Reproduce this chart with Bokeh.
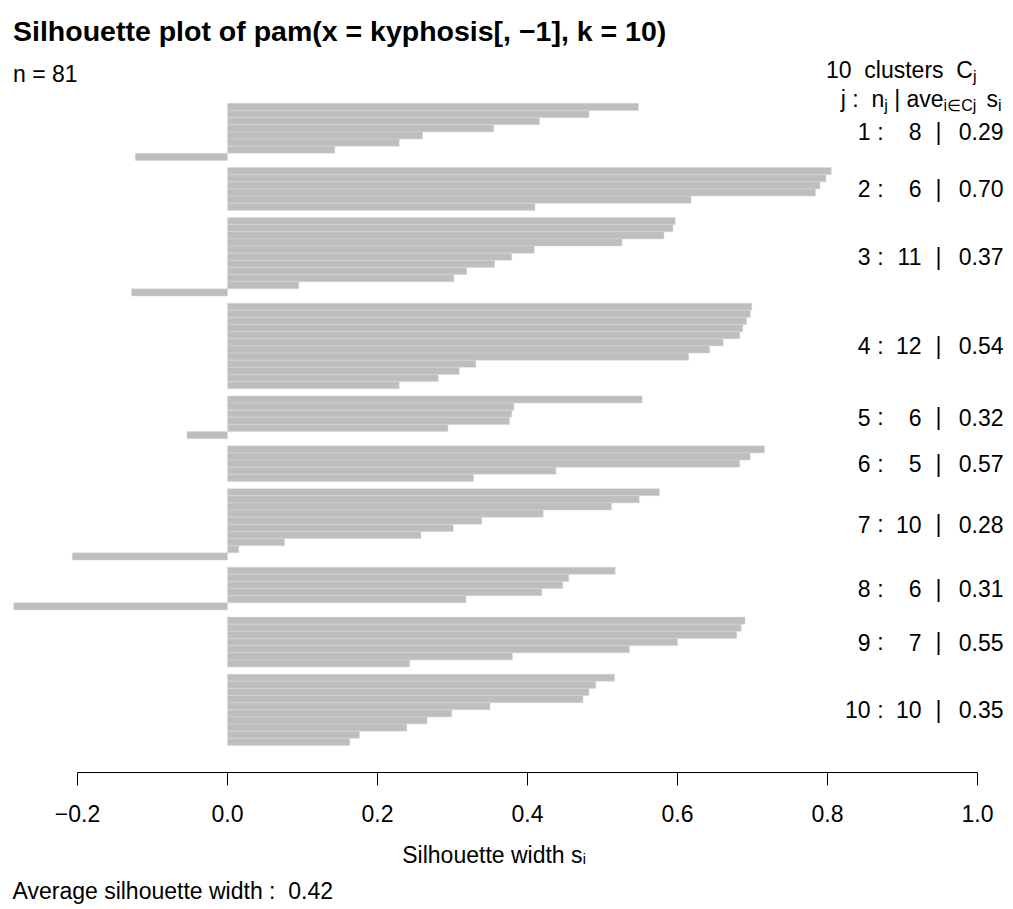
from bokeh.plotting import figure
from bokeh.models import Range1d, LinearAxis, FixedTicker, Label, ColumnDataSource, Title
from bokeh.embed import file_html
from bokeh.resources import INLINE

# ---------------- data ----------------
cluster_ids = [1, 2, 3, 4, 5, 6, 7, 8, 9, 10]
c1 = [0.548, 0.482, 0.416, 0.355, 0.260, 0.229, 0.143, -0.123]
c2 = [0.805, 0.798, 0.790, 0.784, 0.618, 0.410]
c3 = [0.597, 0.594, 0.582, 0.526, 0.409, 0.379, 0.356, 0.319, 0.302, 0.095, -0.128]
c4 = [0.699, 0.697, 0.692, 0.687, 0.683, 0.661, 0.643, 0.615, 0.331, 0.309, 0.281, 0.229]
c5 = [0.553, 0.382, 0.379, 0.376, 0.294, -0.054]
c6 = [0.716, 0.697, 0.683, 0.438, 0.328]
c7 = [0.576, 0.549, 0.512, 0.421, 0.339, 0.301, 0.258, 0.076, 0.015, -0.207]
c8 = [0.517, 0.455, 0.447, 0.419, 0.318, -0.285]
c9 = [0.690, 0.685, 0.679, 0.600, 0.536, 0.380, 0.243]
c10 = [0.516, 0.491, 0.482, 0.474, 0.350, 0.299, 0.266, 0.239, 0.176, 0.163]
cluster_widths = [c1, c2, c3, c4, c5, c6, c7, c8, c9, c10]
cluster_ave = ["0.29", "0.70", "0.37", "0.54", "0.32", "0.57", "0.28", "0.31", "0.55", "0.35"]
n_total = 81
avg_width = "0.42"
tick_values = [-0.2, 0.0, 0.2, 0.4, 0.6, 0.8, 1.0]
tick_labels = ["\u22120.2", "0.0", "0.2", "0.4", "0.6", "0.8", "1.0"]
title_text = "Silhouette plot of pam(x = kyphosis[, \u22121], k = 10)"
x_title = "Silhouette width s\u1d62"

# ---------------- layout helpers ----------------
FONT = "Liberation Sans"
W, H = 1013, 909
FRAME_BOTTOM = 773
X0, XS = 227.0, 750.0      # page x of s=0, px per unit
Y0, YS = 103.0, 7.144      # page y of first bar top, px per bar slot


def X(px):
    return (px - X0) / XS


def U(py):
    return (py - Y0) / YS


AW = {"0": .556, "1": .556, "2": .556, "3": .556, "4": .556, "5": .556, "6": .556,
      "7": .556, "8": .556, "9": .556, " ": .278, "\u00a0": .278, ":": .278, "j": .222,
      "n": .556, "|": .26, "a": .556, "v": .5, "e": .556, "s": .5, "i": .222, "C": .722,
      "\u2208": .713, "c": .5, "l": .222, "u": .556, "t": .278, "r": .333, "S": .667,
      "h": .556, "o": .556, "w": .722, "d": .556, ".": .278}


def tw(t, size):
    return sum(AW.get(ch, .55) for ch in t) * size


# bar positions: one empty slot between clusters
ys, rights, centers = [], [], []
k = 0
for vals in cluster_widths:
    start = k
    for v in vals:
        ys.append(k + 0.5)
        rights.append(v)
        k += 1
    centers.append((start + k) / 2.0)
    k += 1

p = figure(width=W, height=H,
           x_range=Range1d(X(0), X(W)), y_range=Range1d(U(FRAME_BOTTOM), U(0)),
           output_backend="svg", toolbar_location=None,
           x_axis_location=None, y_axis_location=None,
           min_border_left=0, min_border_right=0, min_border_top=0,
           min_border_bottom=H - FRAME_BOTTOM)
p.outline_line_color = None
p.xgrid.visible = False
p.ygrid.visible = False
p.background_fill_color = "white"

src = ColumnDataSource(dict(y=ys, right=rights))
p.hbar(y="y", left=0, right="right", height=1.0, source=src,
       fill_color="#bebebe", line_color="#d8d8d8", line_width=0.5)

ax = LinearAxis(bounds=(-0.2, 1.0), ticker=FixedTicker(ticks=tick_values),
                major_label_overrides={float(v): l for v, l in zip(tick_values, tick_labels)})
ax.axis_line_color = "black"
ax.axis_line_width = 1
ax.major_tick_line_color = "black"
ax.major_tick_out = 13
ax.major_tick_in = 0
ax.minor_tick_out = 0
ax.minor_tick_in = 0
ax.major_label_standoff = 19
ax.major_label_text_font = FONT
ax.major_label_text_font_size = "23px"
ax.major_label_text_color = "black"
ax.axis_label = x_title + "\u00a0" * 4
ax.axis_label_standoff = 17
ax.axis_label_text_font = FONT
ax.axis_label_text_font_size = "23px"
ax.axis_label_text_font_style = "normal"
ax.axis_label_text_color = "black"
p.add_layout(ax, "below")

bottom_note = Title(text=f"Average silhouette width :\u00a0 {avg_width}", align="left",
                    offset=12, standoff=11, text_font=FONT, text_font_size="23px",
                    text_font_style="normal", text_color="black")
p.add_layout(bottom_note, "below")


def label(px, py, text, size, align="left", bold=False, baseline="alphabetic"):
    p.add_layout(Label(x=X(px), y=U(py), text=text, text_font=FONT,
                       text_font_size=f"{size}px", text_align=align,
                       text_baseline=baseline, text_color="black",
                       text_font_style="bold" if bold else "normal"))


def chain(left, base, pieces):
    x = left
    for t, size, dy in pieces:
        label(x, base + dy, t, size)
        x += tw(t, size)


def chain_right(right, base, pieces):
    total = sum(tw(t, s) for t, s, _ in pieces)
    chain(right - total, base, pieces)


# title and n
label(12.5, 31, title_text, 28.5, bold=True)
label(12.5, 74, f"n = {n_total}", 23)

# header on the right
chain_right(976, 70, [(f"{len(cluster_ids)}\u00a0 clusters\u00a0 C", 23, 0), ("j", 16, 6)])
chain_right(1001, 99, [("j :\u00a0 n", 23, 0), ("j", 16, 6), ("\u00a0|\u00a0ave", 23, 0),
                       ("i\u2208Cj", 16, 6), ("\u00a0 s", 23, 0), ("i", 16, 6)])

# cluster rows
for cid, vals, ave, c in zip(cluster_ids, cluster_widths, cluster_ave, centers):
    py = Y0 + YS * c
    label(870, py, str(cid), 23, align="right", baseline="middle")
    label(880, py, ":", 23, align="center", baseline="middle")
    label(921, py, str(len(vals)), 23, align="right", baseline="middle")
    label(938, py, "|", 23, align="center", baseline="middle")
    label(1003, py, ave, 23, align="right", baseline="middle")

open("out.html", "w").write(file_html(p, INLINE))
